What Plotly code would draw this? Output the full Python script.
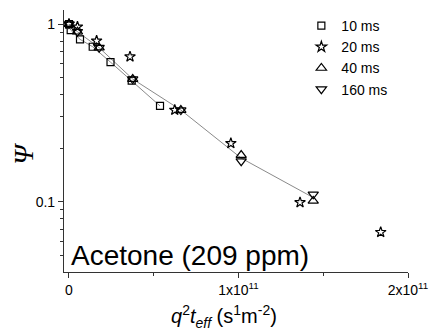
import plotly.graph_objects as go

# ---- data (x in s m^-2, y = Psi) ----
x_10 = [0.0, 0.01e11, 0.065e11, 0.14e11, 0.245e11, 0.37e11, 0.537e11]
y_10 = [1.0, 0.925, 0.82, 0.745, 0.61, 0.48, 0.346]

x_20 = [0.0, 0.05e11, 0.163e11, 0.36e11, 0.624e11, 0.955e11, 1.363e11, 1.839e11]
y_20 = [1.0, 0.965, 0.805, 0.655, 0.328, 0.213, 0.099, 0.0673]

x_40 = [0.0, 0.05e11, 0.178e11, 0.376e11, 0.66e11, 1.016e11, 1.441e11]
y_40 = [1.0, 0.905, 0.736, 0.49, 0.328, 0.183, 0.101]

x_160 = [0.0, 0.05e11, 0.178e11, 0.376e11, 0.66e11, 1.016e11, 1.441e11]
y_160 = [1.0, 0.905, 0.736, 0.49, 0.328, 0.169, 0.110]

labels = ["10 ms", "20 ms", "40 ms", "160 ms"]
x_tickvals = [0, 1e11, 2e11]
x_ticktext = ["0", "1x10<sup>11</sup>", "2x10<sup>11</sup>"]
y_tickvals = [0.1, 1]
y_ticktext = ["0.1", "1"]

fig = go.Figure()

line_style = dict(color="#8a8a8a", width=1)
# fit lines
fig.add_trace(go.Scatter(x=x_10, y=y_10, mode="lines", line=line_style,
                         showlegend=False, hoverinfo="skip"))
fig.add_trace(go.Scatter(x=x_40, y=[(a * b) ** 0.5 for a, b in zip(y_40, y_160)], mode="lines",
                         line=line_style, showlegend=False, hoverinfo="skip"))

fig.add_trace(go.Scatter(x=x_10, y=y_10, mode="markers", name=labels[0],
                         marker=dict(symbol="square-open", size=7, color="black", line=dict(width=1.2))))
fig.add_trace(go.Scatter(x=x_20, y=y_20, mode="markers", name=labels[1],
                         marker=dict(symbol="star-open", size=8, color="black", line=dict(width=1.2))))
fig.add_trace(go.Scatter(x=x_40, y=y_40, mode="markers", name=labels[2],
                         marker=dict(symbol="triangle-up-open", size=9, color="black", line=dict(width=1.2))))
fig.add_trace(go.Scatter(x=x_160, y=y_160, mode="markers", name=labels[3],
                         marker=dict(symbol="triangle-down-open", size=9, color="black", line=dict(width=1.2))))

fig.add_annotation(text="Acetone (209 ppm)", xref="paper", yref="paper", x=0.015, y=-0.005,
                   xanchor="left", yanchor="bottom", showarrow=False,
                   font=dict(family="Liberation Sans, Arial", size=28, color="black"))
fig.add_annotation(text="<i>Ψ</i>", xref="paper", yref="paper", x=-0.12, y=0.45,
                   xanchor="center", yanchor="middle", showarrow=False, textangle=-90,
                   font=dict(family="Liberation Serif, Times New Roman", size=28, color="black"))
fig.add_annotation(text="<i>q</i><sup>2</sup><i>t</i><sub><i>eff</i></sub> (s<sup>1</sup>m<sup>-2</sup>)",
                   xref="paper", yref="paper", x=0.465, y=-0.168,
                   xanchor="center", yanchor="middle", showarrow=False,
                   font=dict(family="Liberation Sans, Arial", size=20, color="black"))

fig.update_layout(
    width=429, height=328,
    margin=dict(l=64, r=21, t=10, b=56),
    paper_bgcolor="white", plot_bgcolor="white",
    font=dict(family="Liberation Sans, Arial", size=14, color="black"),
    legend=dict(x=0.69, y=1.0, xanchor="left", yanchor="top", bgcolor="rgba(0,0,0,0)",
                font=dict(size=14), tracegroupgap=0),
    xaxis=dict(
        range=[-0.0294e11, 2.0e11], showgrid=False, zeroline=False, automargin=False,
        showline=True, linecolor="#333", linewidth=1.2,
        ticks="outside", ticklen=5, tickcolor="#333",
        tickvals=x_tickvals, ticktext=x_ticktext,
        minor=dict(ticks="outside", ticklen=3, tickvals=[0.5e11, 1.5e11], tickcolor="#333"),
    ),
    yaxis=dict(
        type="log", range=[-1.396, 0.079], showgrid=False, zeroline=False, automargin=False,
        showline=True, linecolor="#333", linewidth=1.2,
        ticks="outside", ticklen=5, tickcolor="#333",
        tickvals=y_tickvals, ticktext=y_ticktext,
        minor=dict(ticks="outside", ticklen=3, tickcolor="#333",
                   tickvals=[0.04, 0.05, 0.06, 0.07, 0.08, 0.09, 0.2, 0.3, 0.4, 0.5, 0.6, 0.7, 0.8, 0.9]),
    ),
)

fig.write_html("out.html", config={"displayModeBar": False},
               post_script="document.body.style.margin='0';")
